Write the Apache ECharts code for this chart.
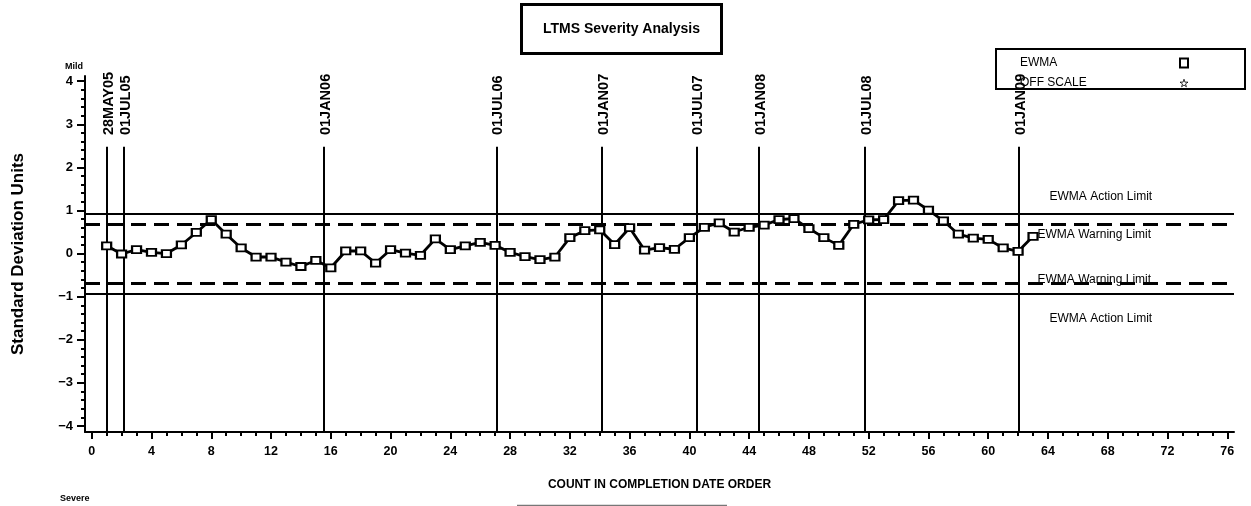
<!DOCTYPE html>
<html>
<head>
<meta charset="utf-8">
<script src="https://cdn.jsdelivr.net/npm/echarts@6/dist/echarts.min.js"></script>
<style>
html,body{margin:0;padding:0;background:#fff;}
#chart{width:1251px;height:506px;}
</style>
</head>
<body>
<div id="chart"></div>
<script>
// ---------- data ----------
const ewmaValues = [
  0.18, -0.01, 0.09, 0.03, 0.00, 0.20, 0.49, 0.79, 0.45, 0.13,
  -0.08, -0.08, -0.20, -0.30, -0.16, -0.33, 0.06, 0.06, -0.22, 0.09,
  0.01, -0.04, 0.34, 0.09, 0.18, 0.26, 0.19, 0.03, -0.07, -0.14,
  -0.08, 0.37, 0.53, 0.55, 0.21, 0.60, 0.08, 0.14, 0.10, 0.37,
  0.61, 0.71, 0.50, 0.61, 0.66, 0.79, 0.81, 0.58, 0.37, 0.19,
  0.68, 0.78, 0.79, 1.23, 1.24, 1.01, 0.76, 0.45, 0.36, 0.33,
  0.13, 0.05, 0.40
];
const dateLabels = ['28MAY05','01JUL05','01JAN06','01JUL06','01JAN07','01JUL07','01JAN08','01JUL08','01JAN09'];
const datePositions = [1.0, 2.16, 15.56, 27.09, 34.13, 40.47, 44.64, 51.73, 62.03];
const actionLimit = 0.93;
const warningLimit = 0.68;
const limitLabelTexts = ['EWMA Action Limit', 'EWMA Warning Limit', 'EWMA Warning Limit', 'EWMA Action Limit'];
const limitLabelAnchors = [[64.1, 1.32], [63.3, 0.43], [63.3, -0.60], [64.1, -1.50]];
const xTickLabels = [0,4,8,12,16,20,24,28,32,36,40,44,48,52,56,60,64,68,72,76];
const yTickLabels = [-4,-3,-2,-1,0,1,2,3,4];

// ---------- layout constants ----------
const X_MIN = -0.45, X_MAX = 76.45;
const Y_MIN = -4.14, Y_MAX = 4.12;
const REF_TOP = 2.48;      // top of the vertical date reference lines
const DATE_LABEL_Y = 2.75; // bottom of rotated date labels

const SANS = "'Liberation Sans','Arimo',sans-serif";
const STAR = 'path://M50,0 L61,35 L98,35 L68,57 L79,91 L50,70 L21,91 L32,57 L2,35 L39,35 Z';

const xMinor = [];
for (let i = 0; i <= 76; i++) if (i % 4 !== 0) xMinor.push(i);
const yMinor = [];
for (let i = -20; i <= 20; i++) if (i % 5 !== 0) yMinor.push(i / 5);

const ewmaData = ewmaValues.map((v, i) => [i + 1, v]);

const chart = echarts.init(document.getElementById('chart'), null, {renderer: 'canvas'});

const option = {
  backgroundColor: '#fff',
  animation: false,
  title: {
    text: 'LTMS Severity Analysis',
    left: 521, top: 4,
    padding: [18, 22, 18, 22],
    borderColor: '#000', borderWidth: 3,
    textStyle: {fontFamily: SANS, fontWeight: 'bold', fontSize: 14, color: '#000'}
  },
  legend: {
    data: [
      {name: 'EWMA', icon: 'rect', itemStyle: {color: '#fff', borderColor: '#000', borderWidth: 2}},
      {name: 'OFF SCALE', icon: STAR, itemStyle: {color: '#fff', borderColor: '#000', borderWidth: 1}}
    ],
    orient: 'vertical', left: 996, top: 49, align: 'right',
    itemWidth: 8, itemHeight: 9, itemGap: 8,
    padding: [8, 56, 0, 24],
    borderColor: '#000', borderWidth: 2,
    selectedMode: false,
    formatter: name => '{t|' + name + '}',
    textStyle: {
      fontFamily: SANS, fontSize: 12, color: '#000',
      rich: {t: {width: 155, align: 'left', fontFamily: SANS, fontSize: 12, color: '#000', height: 15}}
    }
  },
  grid: {left: 85, right: 17, top: 76, bottom: 74, containLabel: false},
  xAxis: [
    {
      type: 'value', min: X_MIN, max: X_MAX, position: 'bottom',
      axisLine: {show: true, onZero: false, lineStyle: {color: '#000', width: 2}},
      axisTick: {show: true, customValues: xTickLabels, length: 7, lineStyle: {color: '#000', width: 2}},
      axisLabel: {customValues: xTickLabels, margin: 13, fontFamily: SANS, fontWeight: 'bold', fontSize: 12.5, color: '#000'},
      splitLine: {show: false},
      name: 'COUNT IN COMPLETION DATE ORDER', nameLocation: 'middle', nameGap: 47,
      nameTextStyle: {fontFamily: SANS, fontWeight: 'bold', fontSize: 12, color: '#000'}
    },
    {
      type: 'value', min: X_MIN, max: X_MAX, position: 'bottom',
      axisLine: {show: false, onZero: false},
      axisTick: {show: true, customValues: xMinor, length: 4, lineStyle: {color: '#000', width: 2}},
      axisLabel: {show: false},
      splitLine: {show: false}
    }
  ],
  yAxis: [
    {
      type: 'value', min: Y_MIN, max: Y_MAX, position: 'left',
      axisLine: {show: true, onZero: false, lineStyle: {color: '#000', width: 2}},
      axisTick: {show: true, customValues: yTickLabels, length: 8, lineStyle: {color: '#000', width: 2}},
      axisLabel: {customValues: yTickLabels, margin: 12, fontFamily: SANS, fontWeight: 'bold', fontSize: 13, color: '#000',
        formatter: v => String(v).replace('-', '\u2212')},
      splitLine: {show: false},
      name: 'Standard Deviation Units', nameLocation: 'middle', nameGap: 58, nameRotate: 90,
      nameTextStyle: {fontFamily: SANS, fontWeight: 'bold', fontSize: 17, color: '#000'}
    },
    {
      type: 'value', min: Y_MIN, max: Y_MAX, position: 'left',
      axisLine: {show: false, onZero: false},
      axisTick: {show: true, customValues: yMinor, length: 4, lineStyle: {color: '#000', width: 2}},
      axisLabel: {show: false},
      splitLine: {show: false}
    }
  ],
  series: [
    {
      name: 'EWMA', type: 'line', data: ewmaData,
      xAxisIndex: 0, yAxisIndex: 0,
      symbol: 'rect', symbolSize: [9, 7],
      itemStyle: {color: '#fff', borderColor: '#000', borderWidth: 2},
      lineStyle: {color: '#000', width: 2.8},
      z: 5,
      markLine: {
        silent: true, symbol: 'none', label: {show: false},
        data: [
          {yAxis: actionLimit, lineStyle: {color: '#000', width: 2, type: 'solid'}},
          {yAxis: -actionLimit, lineStyle: {color: '#000', width: 2, type: 'solid'}},
          {yAxis: warningLimit, lineStyle: {color: '#000', width: 3, type: [15, 8]}},
          {yAxis: -warningLimit, lineStyle: {color: '#000', width: 3, type: [15, 8]}}
        ]
      }
    },
    {
      name: 'OFF SCALE', type: 'scatter', data: [],
      symbol: STAR,
      itemStyle: {color: '#fff', borderColor: '#000', borderWidth: 1}
    },
    {
      name: 'dates', type: 'scatter', symbolSize: 0, silent: true,
      itemStyle: {opacity: 1},
      data: datePositions.map((p, i) => ({name: dateLabels[i], value: [p, DATE_LABEL_Y]})),
      label: {
        show: true, formatter: '{b}', position: 'inside', rotate: 90,
        align: 'left', verticalAlign: 'middle', offset: [0, 2],
        fontFamily: SANS, fontWeight: 'bold', fontSize: 14.5, color: '#000'
      },
      markLine: {
        silent: true, symbol: 'none', label: {show: false},
        lineStyle: {color: '#000', width: 2, type: 'solid'},
        data: datePositions.map(p => [{coord: [p, Y_MIN]}, {coord: [p, REF_TOP]}])
      }
    },
    {
      name: 'limits', type: 'scatter', symbolSize: 0, silent: true,
      itemStyle: {opacity: 1},
      data: limitLabelAnchors.map((a, i) => ({name: limitLabelTexts[i], value: a})),
      label: {
        show: true, formatter: '{b}', position: 'right', distance: 0,
        fontFamily: SANS, fontSize: 12, color: '#000'
      }
    }
  ],
  graphic: [
    {type: 'text', left: 65, top: 62, style: {text: 'Mild', fontFamily: SANS, fontWeight: 'bold', fontSize: 9, fill: '#000'}},
    {type: 'text', left: 60, top: 494, style: {text: 'Severe', fontFamily: SANS, fontWeight: 'bold', fontSize: 9, fill: '#000'}},
    {type: 'line', shape: {x1: 517, y1: 505.5, x2: 727, y2: 505.5}, style: {stroke: '#777', lineWidth: 1.5}}
  ]
};
chart.setOption(option);
</script>
</body>
</html>
